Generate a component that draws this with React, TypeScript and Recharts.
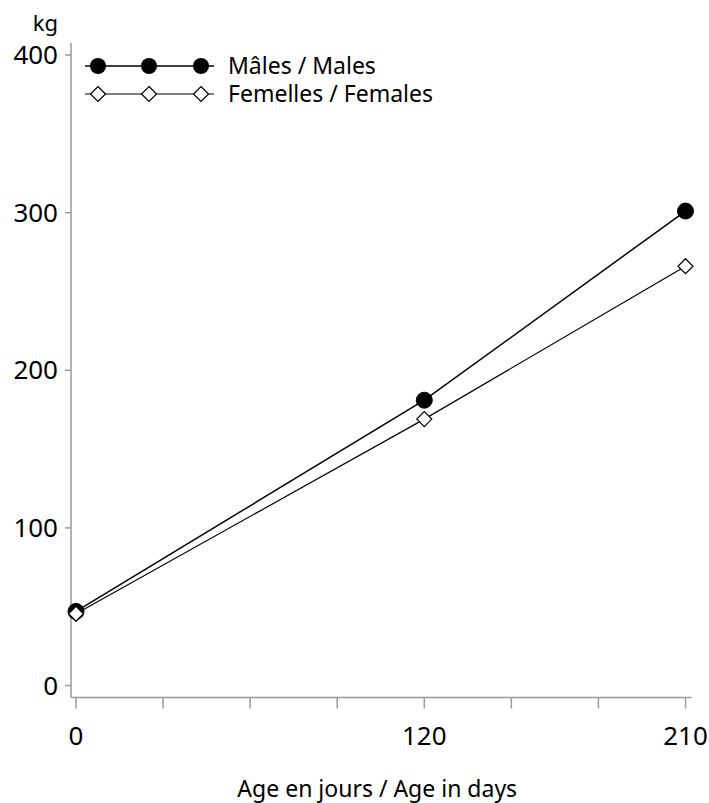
import React from 'react';
import { LineChart, Line, XAxis, YAxis, Legend } from 'recharts';

const ages = [0, 120, 210];
const males = [47, 181, 301];
const females = [45.5, 169, 266];
const seriesNames = ['Mâles / Males', 'Femelles / Females'];
const xTicks = [0, 30, 60, 90, 120, 150, 180, 210];
const xTickLabels = ['0', '', '', '', '120', '', '', '210'];
const yTicks = [0, 100, 200, 300, 400];
const xTitle = 'Age en jours / Age in days';
const yTitle = 'kg';

const data = ages.map((a, i) => ({ age: a, males: males[i], females: females[i] }));

const FONT = '"Noto Sans", "Open Sans", sans-serif';
const FRAME = '#999999';

const Diamond = (props: any) => {
  const { cx, cy, size = 7.5, key } = props;
  if (cx == null || cy == null) return <g key={key} />;
  const s = size;
  return (
    <polygon
      key={key}
      points={`${cx},${cy - s} ${cx + s},${cy} ${cx},${cy + s} ${cx - s},${cy}`}
      fill="#fff"
      stroke="#000"
      strokeWidth={1.2}
    />
  );
};

const LegendContent = () => {
  const mx = [13, 64, 116];
  const rows = [12, 40];
  return (
    <svg width={380} height={58} style={{ display: 'block', fontFamily: FONT, overflow: 'visible' }}>
      <line x1={0} x2={129} y1={rows[0]} y2={rows[0]} stroke="#000" strokeWidth={1.5} />
      {mx.map((x, i) => (
        <circle key={'m' + i} cx={x} cy={rows[0]} r={8} fill="#000" />
      ))}
      <text x={143} y={rows[0]} dy="0.36em" fontSize={23} fill="#000">
        {seriesNames[0]}
      </text>
      <line x1={0} x2={129} y1={rows[1]} y2={rows[1]} stroke="#000" strokeWidth={1.2} />
      {mx.map((x, i) => (
        <Diamond key={'f' + i} cx={x} cy={rows[1]} />
      ))}
      <text x={143} y={rows[1]} dy="0.36em" fontSize={23} fill="#000">
        {seriesNames[1]}
      </text>
    </svg>
  );
};

export default function App() {
  return (
    <div style={{ width: 709, height: 803, fontFamily: FONT, position: 'relative' }}>
      <style>{'html,body{margin:0;padding:0;overflow:hidden;}'}</style>
      <LineChart
        width={709}
        height={803}
        data={data}
        margin={{ top: 43, right: 17.5, left: 11, bottom: 5.5 }}
        style={{ fontFamily: FONT }}
      >
        <XAxis
          dataKey="age"
          type="number"
          domain={[0, 210]}
          ticks={xTicks}
          interval={0}
          tickFormatter={(v: number) => xTickLabels[xTicks.indexOf(v)] ?? ''}
          padding={{ left: 5, right: 6 }}
          height={100}
          tickSize={11}
          tickMargin={18}
          axisLine={{ stroke: FRAME, strokeWidth: 1.5 }}
          tickLine={{ stroke: FRAME, strokeWidth: 1.5 }}
          tick={{ fill: '#000', fontSize: 26 }}
          label={{
            content: (p: any) => {
              const vb = p.viewBox || {};
              return (
                <text
                  x={vb.x + vb.width / 2 - 4}
                  y={vb.y + vb.height - 0.5}
                  textAnchor="middle"
                  fontSize={23}
                  fill="#000"
                >
                  {xTitle}
                </text>
              );
            },
          }}
        />
        <XAxis
          xAxisId="top"
          dataKey="age"
          type="number"
          orientation="top"
          domain={[0, 210]}
          height={0}
          tick={false}
          tickLine={false}
          axisLine={{ stroke: FRAME, strokeWidth: 1.5 }}
        />
        <YAxis
          type="number"
          domain={[0, 400]}
          ticks={yTicks}
          interval={0}
          width={60}
          padding={{ top: 12, bottom: 12 }}
          tickSize={6}
          tickMargin={7}
          axisLine={{ stroke: FRAME, strokeWidth: 1.5 }}
          tickLine={{ stroke: FRAME, strokeWidth: 1.5 }}
          tick={{ fill: '#000', fontSize: 26 }}
          label={{
            content: (p: any) => {
              const vb = p.viewBox || {};
              return (
                <text
                  x={vb.x + vb.width - 13}
                  y={vb.y - 12}
                  textAnchor="end"
                  fontSize={22}
                  fill="#000"
                >
                  {yTitle}
                </text>
              );
            },
          }}
        />
        <YAxis
          yAxisId="right"
          orientation="right"
          type="number"
          domain={[0, 400]}
          width={0}
          tick={false}
          tickLine={false}
          axisLine={{ stroke: FRAME, strokeWidth: 1.5 }}
        />
        <Legend
          layout="horizontal"
          verticalAlign="middle"
          align="center"
          content={<LegendContent />}
          wrapperStyle={{ position: 'absolute', top: 54, left: 85, width: 380, height: 58 }}
        />
        <Line
          dataKey="males"
          name={seriesNames[0]}
          stroke="#000"
          strokeWidth={1.5}
          isAnimationActive={false}
          dot={{ r: 8, fill: '#000', stroke: '#000', strokeWidth: 1 }}
          activeDot={false}
        />
        <Line
          dataKey="females"
          name={seriesNames[1]}
          stroke="#000"
          strokeWidth={1.2}
          isAnimationActive={false}
          dot={(p: any) => <Diamond {...p} />}
          activeDot={false}
        />
      </LineChart>
    </div>
  );
}
